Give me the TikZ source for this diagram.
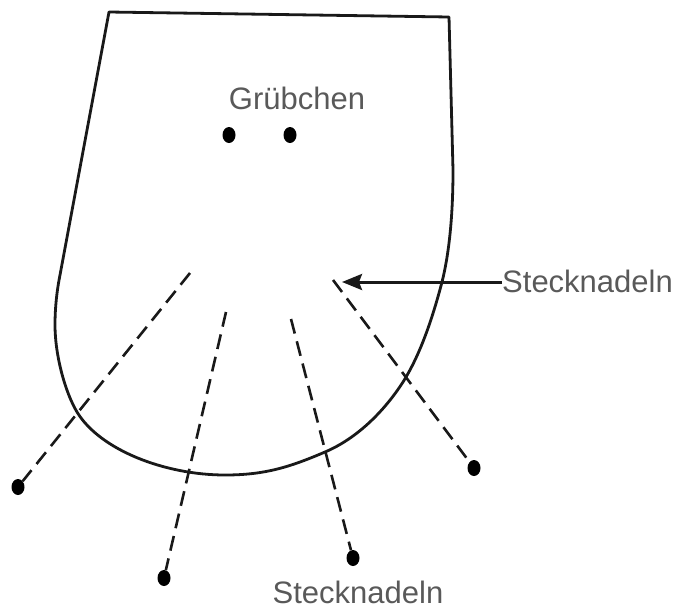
\documentclass[tikz,border=0pt]{standalone}
\usepackage{fontspec}
\setmainfont{Liberation Sans}
\usetikzlibrary{arrows.meta,shapes.geometric}
\begin{document}
\begin{tikzpicture}[x=1pt,y=-1pt,
 outline/.style={line width=2.8pt,black!90,line join=round},
 pin/.style={ellipse,fill=black,inner sep=0pt,minimum width=13pt,minimum height=16pt},
 guide/.style={line width=2.6pt,dash pattern=on 15pt off 8pt,black!90},
 lbl/.style={font=\fontsize{31pt}{36pt}\selectfont,text=black!65,inner sep=0pt}]
\useasboundingbox (0,0) rectangle (676,608);
\draw[outline] (109,12) -- (449,17) -- (453,170)
 .. controls (453,210) and (450,250) .. (442,282)
 .. controls (432,320) and (420,355) .. (403,382)
 .. controls (385,410) and (358,438) .. (325,452)
 .. controls (290,467) and (265,475) .. (225,475)
 .. controls (165,475) and (100,450) .. (77,412)
 .. controls (65,392) and (55,355) .. (55,325)
 .. controls (55,307) and (57,290) .. (60,275) -- cycle;
\node[pin] (g1) at (229,135) {};
\node[pin] (g2) at (290,135) {};
\node[lbl,anchor=base] (gl) at (297,109) {Grübchen};
\coordinate (a1) at (190,273);
\coordinate (a2) at (226,312);
\coordinate (a3) at (291,319);
\coordinate (a4) at (333,280);
\coordinate (tip) at (342,282);
\node[pin] (p1) at (18,487) {};
\node[pin] (p2) at (164,578) {};
\node[pin] (p3) at (353,558) {};
\node[pin] (p4) at (474,468) {};
\draw[guide] (a1) -- (p1);
\draw[guide] (a2) -- (p2);
\draw[guide] (a3) -- (p3);
\draw[guide] (a4) -- (p4);
\node[lbl,anchor=base west] (s1) at (502,292) {Stecknadeln};
\node[lbl,anchor=base] (s2) at (358,603) {Stecknadeln};
\draw[line width=3pt,black!90,-{Stealth[length=20pt,width=16pt,inset=3pt]}] (s1.west |- tip) -- (tip);
\end{tikzpicture}
\end{document}
